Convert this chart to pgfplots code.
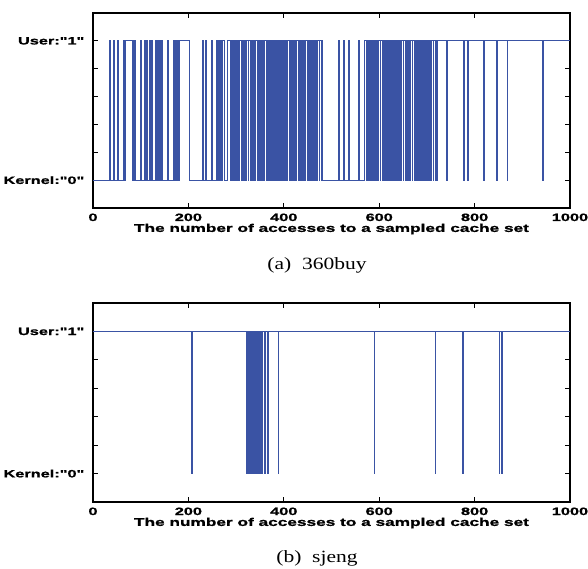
\documentclass[border=0pt]{standalone}
\usepackage{fontspec}
\setmainfont{Liberation Serif}
\newfontfamily\hv[FakeStretch=1.54, BoldFeatures={FakeBold=1.2}]{Liberation Sans}
\newfontfamily\capfont[FakeStretch=1.25]{Liberation Serif}
\usepackage{pgfplots}
\pgfplotsset{compat=1.18}
\definecolor{mblue}{RGB}{58,83,164}
\pgfplotsset{
 myax/.style={
  scale only axis, width=238.5pt,
  xmin=0, xmax=1000, ymin=-0.2, ymax=1.2,
  xtick={0,200,400,600,800,1000},
  ytick={0,0.2,0.4,0.6,0.8,1},
  yticklabels={{Kernel:"0"},{},{},{},{},{User:"1"}},
  tick align=inside, major tick length=2.5pt,
  xtick pos=both, ytick pos=both,
  tick style={black, line width=0.5pt},
  axis line style={black, line width=0.6pt},
  every tick label/.append style={font=\hv\bfseries\fontsize{5.3}{6}\selectfont},
  /pgf/number format/assume math mode=true,
  /pgf/number format/1000 sep={},
  xticklabel style={inner sep=0.5pt, yshift=-2.1pt},
  yticklabel style={xshift=-0.8pt},
  xlabel={The number of accesses to a sampled cache set},
  xlabel style={font=\hv\bfseries\fontsize{5.6}{6.5}\selectfont, at={(axis description cs:0.5,0)}, anchor=north, yshift=-7.7pt, inner sep=0pt},
 }
}
\begin{document}
\begin{tikzpicture}
\useasboundingbox (0,0) rectangle (294pt,284pt);
\begin{axis}[myax, height=97.5pt, at={(46.5pt,180pt)}, anchor=south west]
\addplot[const plot, mblue, line width=0.5pt, mark=none] coordinates {
(0,0)(34,1)(37,0)(44,1)(46,0)(52,1)(54,0)
(63,1)(65,0)(66,1)(68,0)(69,1)(82,0)(83,1)(85,0)(86,1)(88,0)(89,1)(90,0)
(99,1)(101,0)(108,1)(110,0)(113,1)(115,0)(119,1)(121,0)(123,1)(125,0)
(130,1)(132,0)(133,1)(135,0)(137,1)(139,0)(140,1)(142,0)(143,1)(145,0)
(156,1)(158,0)
(168,1)(170,0)(172,1)(174,0)(176,1)(177,0)(179,1)(180,0)(182,1)(203,0)
(230,1)(232,0)(235,1)(237,0)(249,1)(251,0)(258,1)(260,0)(263,1)(265,0)(267,1)(268,0)(270,1)(271,0)(272,1)(276,0)(283,1)
(288,0)(289.5,1)(292,0)(293.5,1)(295,0)(296.5,1)(299,0)(300.5,1)(303,0)(304.5,1)(306,0)(307.5,1)(311,0)(312.5,1)(314,0)(315.5,1)(318,0)(319.5,1)(321,0)(322.5,1)(325,0)(326.5,1)(330,0)(331.5,1)(333,0)(334.5,1)(337,0)(338.5,1)(340,0)(341.5,1)(344,0)(345.5,1)(348,0)(349.5,1)(351,0)(352.5,1)(356,0)(357.5,1)(359,0)(360.5,1)(363,0)(364.5,1)(366,0)(367.5,1)(370,0)(371.5,1)(374,0)(375.5,1)(377,0)(378.5,1)(381,0)(382.5,1)(385,0)(386.5,1)(388,0)(389.5,1)(392,0)(393.5,1)(396,0)(397.5,1)(399,0)(400.5,1)(404,0)(405.5,1)(407,0)(408.5,1)(411,0)(412.5,1)(414,0)(415.5,1)(418,0)(419.5,1)(423,0)(424.5,1)(426,0)(427.5,1)(430,0)(431.5,1)(433,0)(434.5,1)(437,0)(438.5,1)(441,0)(442.5,1)(444,0)(445.5,1)(449,0)(450.5,1)(452,0)(453.5,1)(456,0)(457.5,1)(460,0)(461.5,1)(463,0)(464.5,1)(467,0)(468.5,1)(470,0)(471.5,1)(474,0)(475.5,1)(478,0)(479.5,1)(481,0)
(515,1)(517,0)(525,1)(527,0)(535,1)(537,0)(557,1)(559,0)
(570,1)(573,0)(574.5,1)(577,0)(578.5,1)(580,0)(581.5,1)(584,0)(585.5,1)(588,0)(589.5,1)(591,0)(592.5,1)(595,0)(596.5,1)(598,0)(599.5,1)(602,0)(603.5,1)(607,0)(608.5,1)(610,0)(611.5,1)(613,0)(614.5,1)(617,0)(618.5,1)(621,0)(622.5,1)(624,0)(625.5,1)(628,0)(629.5,1)(632,0)(633.5,1)(636,0)(637.5,1)(639,0)(640.5,1)(643,0)(644.5,1)(646,0)(647.5,1)(650,0)(651.5,1)(655,0)(656.5,1)(658,0)(659.5,1)(662,0)(663.5,1)(665,0)(666.5,1)(669,0)(670.5,1)(673,0)(674.5,1)(676,0)(677.5,1)(680,0)(681.5,1)(684,0)(685.5,1)(687,0)(688.5,1)(691,0)(692.5,1)(695,0)(696.5,1)(698,0)(699.5,1)(702,0)(703.5,1)(706,0)(707.5,1)(709,0)(710.5,1)(713,0)(714.5,1)(717,0)(718.5,1)(721,0)(722.5,1)
(742,0)(744,1)(776,0)(778,1)(786,0)(788,1)(818,0)(820,1)(846,0)(848,1)(868,0)(870,1)(943,0)(945,1)(1000,1)
};
\end{axis}
\begin{axis}[myax, height=99.5pt, at={(46.5pt,33pt)}, anchor=south west]
\addplot[const plot, mblue, line width=0.5pt, mark=none] coordinates {
(0,1)(207,0)(208,1)
(322,0)(323,1)(324,0)(325,1)(327,0)(328,1)(329,0)(331,1)(332,0)(334,1)(335,0)(337,1)(338,0)(340,1)(341,0)(343,1)(344,0)(346,1)(347,0)(349,1)(350,0)(352,1)(354,0)(355,1)(360,0)(361,1)(365,0)(366,1)(367,0)(368,1)
(388,0)(389,1)(590,0)(591,1)(718,0)(719,1)(774,0)(776,1)(852,0)(853,1)(857,0)(858,1)(1000,1)
};
\end{axis}
\node[font=\capfont\fontsize{8.6}{10}\selectfont] at (158.5pt,151.5pt) {(a)\ \ 360buy};
\node[font=\capfont\fontsize{8.6}{10}\selectfont] at (158.5pt,5pt) {(b)\ \ sjeng};
\end{tikzpicture}
\end{document}
